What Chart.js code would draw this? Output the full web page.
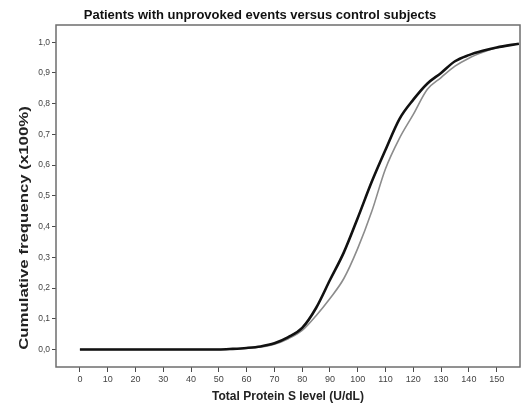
<!DOCTYPE html>
<html>
<head>
<meta charset="utf-8">
<script src="https://cdn.jsdelivr.net/npm/chart.js@4"></script>
<style>
  html, body { margin: 0; padding: 0; background: #fff; }
  #wrap { width: 524px; height: 409px; }
</style>
</head>
<body>
<div id="wrap"><canvas id="canvas" width="524" height="409"></canvas></div>
<script>
const TITLE = "Patients with unprovoked events versus control subjects";
const X_TITLE = "Total Protein S level (U/dL)";
const Y_TITLE = "Cumulative frequency (x100%)";

// protein S level (U/dL)
const levels = [0, 50, 55, 60, 65, 70, 75, 80, 85, 90, 95, 100, 105, 110, 115, 120, 125, 130, 135, 140, 145, 150, 158];
// patients with unprovoked events (black)
const patientFreq = [0, 0, 0.002, 0.005, 0.01, 0.02, 0.04, 0.07, 0.135, 0.226, 0.316, 0.428, 0.545, 0.65, 0.75, 0.813, 0.865, 0.9, 0.938, 0.958, 0.972, 0.983, 0.995];
// control subjects (gray)
const controlFreq = [0, 0, 0.001, 0.004, 0.008, 0.017, 0.035, 0.062, 0.11, 0.166, 0.231, 0.329, 0.448, 0.588, 0.687, 0.765, 0.846, 0.885, 0.922, 0.948, 0.967, 0.982, 0.995];

const xTicks = [0, 10, 20, 30, 40, 50, 60, 70, 80, 90, 100, 110, 120, 130, 140, 150];
const yTicks = [0, 0.1, 0.2, 0.3, 0.4, 0.5, 0.6, 0.7, 0.8, 0.9, 1.0];

const BOX_COLOR = "#6e6e6e";
const TICK_COLOR = "#4a4a4a";

const toPoints = (xs, ys) => xs.map((x, i) => ({ x: x, y: ys[i] }));

// frame around the plot area
const frame = {
  id: "frame",
  afterDraw(chart) {
    const { ctx, chartArea: a } = chart;
    ctx.save();
    ctx.strokeStyle = BOX_COLOR;
    ctx.lineWidth = 1.5;
    ctx.strokeRect(a.left, a.top, a.right - a.left, a.bottom - a.top);
    ctx.restore();
  },
};

// y title, stretched along its length like the original
const yTitle = {
  id: "yTitle",
  afterDraw(chart) {
    const { ctx, chartArea: a } = chart;
    ctx.save();
    ctx.translate(25, (a.top + a.bottom) / 2 + 32);
    ctx.rotate(-Math.PI / 2);
    ctx.scale(1.4, 1);
    ctx.font = "bold 12px 'Liberation Sans', Arial, sans-serif";
    ctx.fillStyle = "#222";
    ctx.textAlign = "center";
    ctx.textBaseline = "middle";
    ctx.fillText(Y_TITLE, 0, 0);
    ctx.restore();
  },
};

new Chart(document.getElementById("canvas"), {
  type: "line",
  data: {
    datasets: [
      {
        label: "Patients",
        data: toPoints(levels, patientFreq),
        borderColor: "#111",
        borderWidth: 2.6,
        pointRadius: 0,
        cubicInterpolationMode: "monotone",
      },
      {
        label: "Controls",
        data: toPoints(levels, controlFreq),
        borderColor: "#8c8c8c",
        borderWidth: 1.6,
        pointRadius: 0,
        cubicInterpolationMode: "monotone",
      },
    ],
  },
  options: {
    responsive: false,
    animation: false,
    layout: { padding: { top: 0, right: 4, bottom: 0, left: 0 } },
    plugins: {
      legend: { display: false },
      tooltip: { enabled: false },
      title: {
        display: true,
        text: TITLE,
        color: "#111",
        font: { family: "'Liberation Sans', Arial, sans-serif", size: 13, weight: "bold" },
        padding: { top: 8, bottom: 1.4 },
      },
    },
    scales: {
      x: {
        type: "linear",
        min: -8.6,
        max: 158.4,
        afterBuildTicks: (scale) => {
          scale.ticks = xTicks.map((v) => ({ value: v }));
        },
        afterFit: (scale) => {
          scale.height = 42;
        },
        grid: { drawOnChartArea: false, drawTicks: true, tickLength: 5, tickColor: TICK_COLOR },
        border: { display: false },
        ticks: {
          color: "#444",
          padding: 2,
          maxRotation: 0,
          autoSkip: false,
          font: { family: "'Liberation Sans', Arial, sans-serif", size: 9 },
        },
        title: {
          display: true,
          text: X_TITLE,
          color: "#222",
          font: { family: "'Liberation Sans', Arial, sans-serif", size: 12, weight: "bold" },
          padding: { top: 0, bottom: 4.8 },
        },
      },
      y: {
        type: "linear",
        min: -0.057,
        max: 1.056,
        afterBuildTicks: (scale) => {
          scale.ticks = yTicks.map((v) => ({ value: v }));
        },
        afterFit: (scale) => {
          scale.width = 56;
        },
        grid: { drawOnChartArea: false, drawTicks: true, tickLength: 4, tickColor: TICK_COLOR },
        border: { display: false },
        ticks: {
          color: "#444",
          padding: 2,
          autoSkip: false,
          font: { family: "'Liberation Sans', Arial, sans-serif", size: 8.5 },
          callback: (v) => v.toFixed(1).replace(".", ","),
        },
        title: { display: false },
      },
    },
  },
  plugins: [frame, yTitle],
});
</script>
</body>
</html>
